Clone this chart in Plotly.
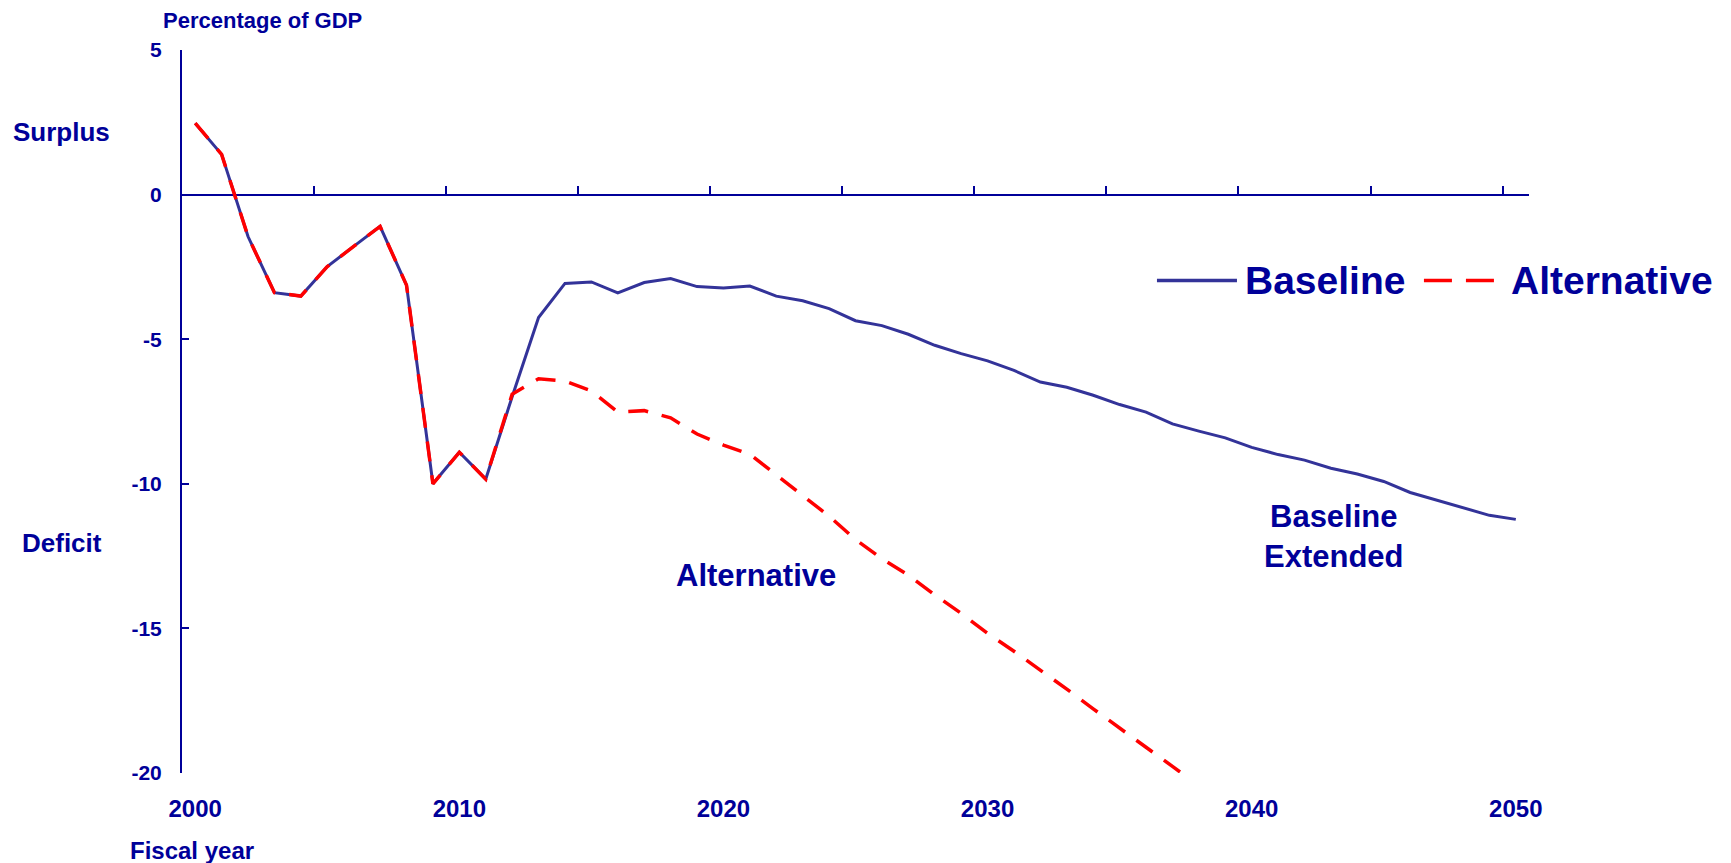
import plotly.graph_objects as go

years = list(range(2000, 2051))

baseline = [2.47, 1.39, -1.45, -3.39, -3.51, -2.49, -1.79, -1.10, -3.13, -10.0,
            -8.91, -9.84, -6.99, -4.25, -3.07, -3.02, -3.40, -3.04, -2.90, -3.18,
            -3.23, -3.16, -3.51, -3.67, -3.94, -4.36, -4.53, -4.83, -5.21, -5.50,
            -5.75, -6.08, -6.48, -6.66, -6.94, -7.26, -7.52, -7.93, -8.18, -8.41,
            -8.74, -8.99, -9.18, -9.46, -9.66, -9.92, -10.30, -10.57, -10.82, -11.09,
            -11.23]

alt_years = list(range(2000, 2039))
alternative = [2.47, 1.39, -1.45, -3.39, -3.51, -2.49, -1.79, -1.10, -3.13, -10.0,
               -8.91, -9.84, -6.90, -6.37, -6.45, -6.79, -7.52, -7.47, -7.72, -8.28,
               -8.66, -8.98, -9.69, -10.42, -11.12, -11.93, -12.59, -13.16, -13.84, -14.48,
               -15.17, -15.79, -16.43, -17.10, -17.78, -18.43, -19.11, -19.77, -20.45]

label_years = [2000, 2010, 2020, 2030, 2040, 2050]
label_text = [str(y) for y in label_years]
boundary_ticks = [y + 0.5 for y in range(2004, 2050, 5)]
y_ticks = [5, 0, -5, -10, -15, -20]
y_tick_text = ["5", "0", "-5", "-10", "-15", "-20"]

NAVY = "#000099"
BLUE = "#333399"
RED = "#FF0000"
FONT = "Liberation Sans, Arial, sans-serif"

fig = go.Figure()
fig.add_trace(go.Scatter(x=years, y=baseline, mode="lines", name="Baseline",
                         line=dict(color=BLUE, width=3), showlegend=False))
fig.add_trace(go.Scatter(x=alt_years, y=alternative, mode="lines", name="Alternative",
                         xaxis="x2",
                         line=dict(color=RED, width=3.5, dash="20px,14px"), showlegend=False))

xr = [1999.5, 2050.5]
fig.update_layout(
    width=1731, height=863,
    margin=dict(l=182, r=202, t=50, b=90),
    paper_bgcolor="white", plot_bgcolor="white",
    font=dict(family=FONT, color=NAVY, weight="bold"),
    showlegend=False,
    xaxis=dict(range=xr, tickvals=label_years, ticktext=label_text, ticks="",
               showline=False, showgrid=False, zeroline=False,
               tickfont=dict(size=24, color=NAVY, family=FONT, weight="bold"),
               ticklabelstandoff=19),
    xaxis2=dict(range=xr, overlaying="x", anchor="free", position=0.8, side="bottom",
                tickvals=boundary_ticks, ticks="inside", ticklen=9, tickwidth=2,
                tickcolor=NAVY, showticklabels=False, showline=False,
                showgrid=False, zeroline=False),
    yaxis=dict(range=[-20, 5], tickvals=y_ticks, ticktext=y_tick_text,
               ticks="inside", ticklen=7,
               tickwidth=2, tickcolor=NAVY, showline=True, linewidth=2,
               linecolor=NAVY, showgrid=False, zeroline=True, zerolinecolor=NAVY,
               zerolinewidth=2,
               tickfont=dict(size=21, color=NAVY, family=FONT, weight="bold"),
               ticklabelstandoff=14),
)

def ann(text, x, y, size, xanchor="center", xref="paper", yref="paper", align="center"):
    fig.add_annotation(text=text, x=x, y=y, xref=xref, yref=yref, showarrow=False,
                       xanchor=xanchor, yanchor="middle", align=align,
                       font=dict(size=size, color=NAVY, family=FONT, weight="bold"))

ann("Percentage of GDP", -0.0156, 1.0408, 22, xanchor="left")
ann("Surplus", -0.0895, 0.8864, 26)
ann("Deficit", -0.0894, 0.3176, 26)
ann("Fiscal year", -0.0401, -0.1069, 24, xanchor="left")
ann("Alternative", 2021.24, -13.16, 31, xref="x", yref="y")
ann("Baseline<br>Extended", 2043.1, -11.81, 31, xref="x", yref="y")

# legend
fig.add_shape(type="line", xref="paper", yref="paper", x0=0.7238, x1=0.7832,
              y0=0.6813, y1=0.6813, line=dict(color=BLUE, width=3.5))
fig.add_shape(type="line", xref="paper", yref="paper", x0=0.9220, x1=0.9740,
              y0=0.6813, y1=0.6813, line=dict(color=RED, width=3.5, dash="28px,14px"))
ann("Baseline", 0.7880, 0.6813, 39, xanchor="left")
ann("Alternative", 0.9850, 0.6813, 39, xanchor="left")

fig.write_html("out.html",
               config={"displayModeBar": False},
               post_script="document.body.style.margin='0px';document.body.style.overflow='hidden';")
